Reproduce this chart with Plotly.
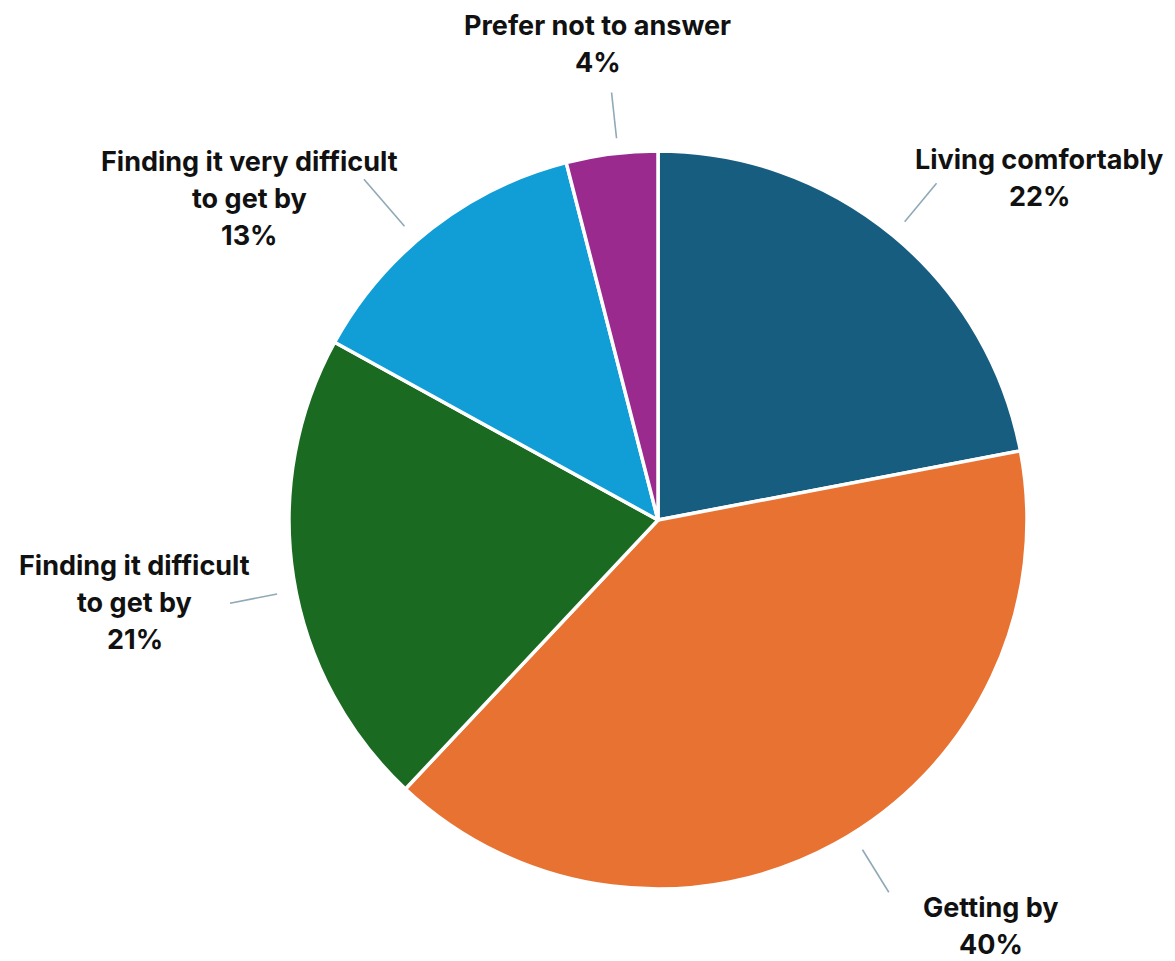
import math
import plotly.graph_objects as go

# Survey: how respondents are managing financially
categories = [
    "Living comfortably",
    "Getting by",
    "Finding it difficult to get by",
    "Finding it very difficult to get by",
    "Prefer not to answer",
]
shares = [22, 40, 21, 13, 4]
label_lines = [
    ["Living comfortably"],
    ["Getting by"],
    ["Finding it difficult", "to get by"],
    ["Finding it very difficult", "to get by"],
    ["Prefer not to answer"],
]
colors = ["#175d80", "#e87232", "#1b6a22", "#119dd6", "#9b2a8f"]

W, H = 1175, 961
CX, CY, R = 658, 520, 369          # pie centre and radius in pixels

fig = go.Figure(
    go.Pie(
        labels=categories,
        values=shares,
        sort=False,
        direction="clockwise",
        rotation=0,
        marker=dict(colors=colors, line=dict(color="white", width=3.5)),
        textinfo="none",
        hoverinfo="label+percent",
        domain=dict(
            x=[(CX - R) / W, (CX + R) / W],
            y=[(H - CY - R) / H, (H - CY + R) / H],
        ),
    )
)

# label placement: radius of label centre and angular nudge (degrees)
label_radius = [512, 525, 530, 520, 480]
label_nudge = [8.5, -10.5, 0, -14, 0]
# leader line: inner/outer radius and angular offset from slice middle
lead_in = [387, 388, 388, 388, 384]
lead_out = [437, 438, 436, 450, 430]
lead_shift = [0.0, -3.0, -2.0, -3.0, 1.0]
LINE_H = 37
FONT = dict(family="Inter, Lato, sans-serif", size=27, color="#111111")


def to_paper(px, py):
    return px / W, 1 - py / H


total = sum(shares)
start = 0.0
for i, v in enumerate(shares):
    span = 360.0 * v / total
    mid = start + span / 2
    start += span
    a = math.radians(mid + lead_shift[i])
    # leader line just outside the pie edge
    x0, y0 = to_paper(CX + lead_in[i] * math.sin(a), CY - lead_in[i] * math.cos(a))
    x1, y1 = to_paper(CX + lead_out[i] * math.sin(a), CY - lead_out[i] * math.cos(a))
    fig.add_shape(
        type="line", xref="paper", yref="paper",
        x0=x0, y0=y0, x1=x1, y1=y1,
        line=dict(color="#8fa9b6", width=1.6),
    )
    # label text block centred on the label point
    b = math.radians(mid + label_nudge[i])
    lx = CX + label_radius[i] * math.sin(b)
    ly = CY - label_radius[i] * math.cos(b)
    lines = label_lines[i] + [f"{v}%"]
    n = len(lines)
    for k, txt in enumerate(lines):
        py = ly + (k - (n - 1) / 2) * LINE_H
        px_, pyp = to_paper(lx, py)
        fig.add_annotation(
            x=px_, y=pyp, xref="paper", yref="paper",
            text=f"<b>{txt}</b>", showarrow=False,
            xanchor="center", yanchor="middle", font=FONT,
        )

fig.update_layout(
    width=W, height=H,
    margin=dict(l=0, r=0, t=0, b=0),
    showlegend=False,
    paper_bgcolor="white",
    plot_bgcolor="white",
)

fig.write_html("out.html")
